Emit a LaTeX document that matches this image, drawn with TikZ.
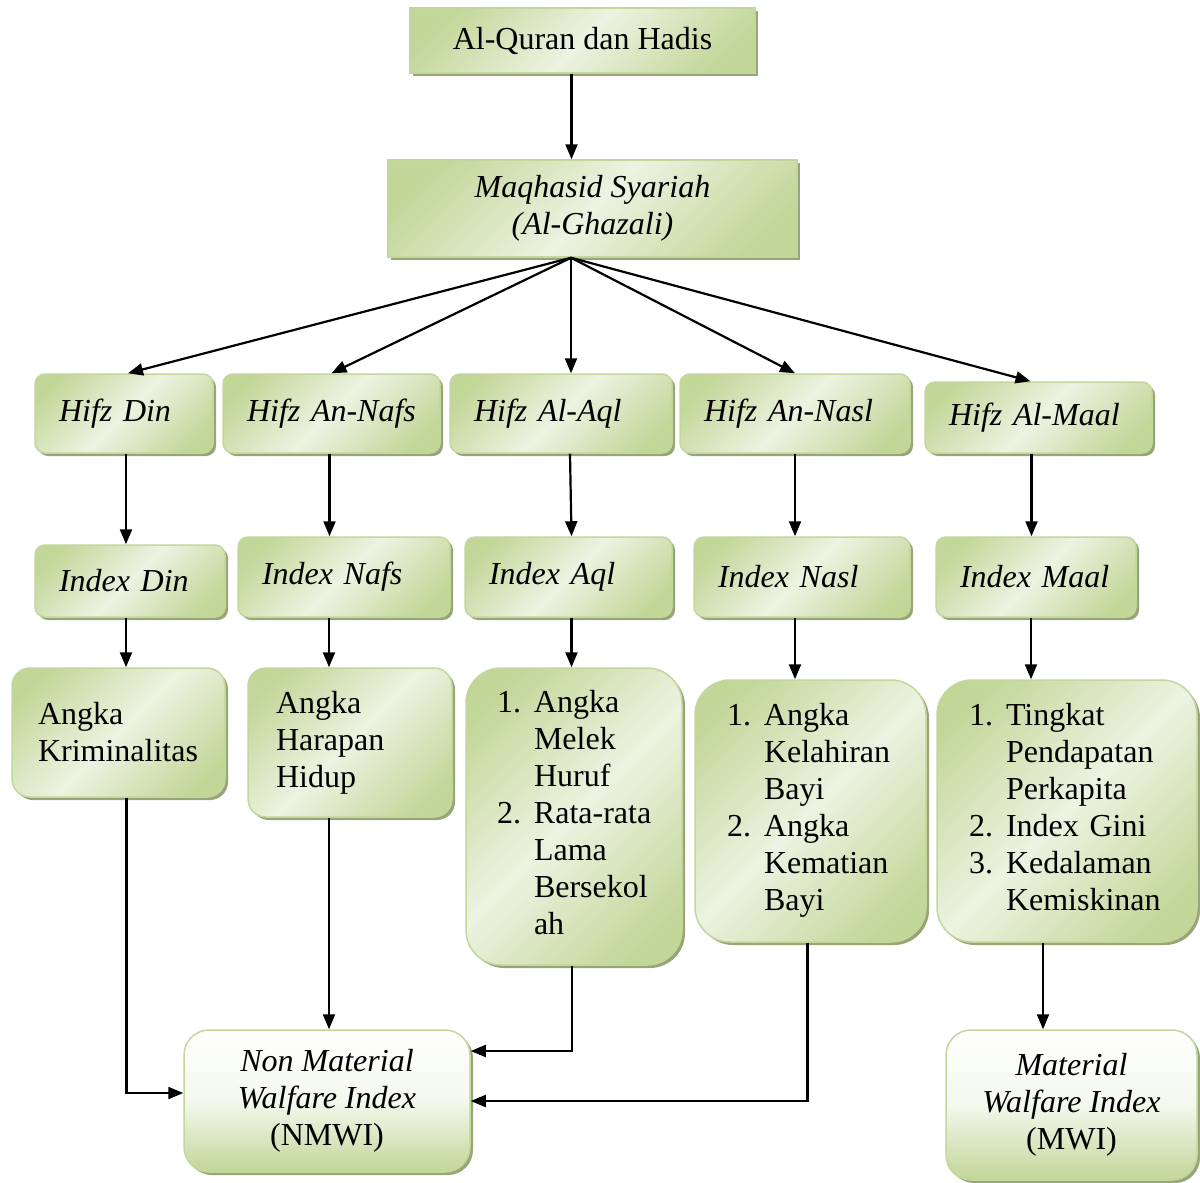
\documentclass[tikz,border=0pt]{standalone}
\usepackage{fontspec}
\setmainfont{Liberation Serif}
\usetikzlibrary{arrows.meta,shadows}

\definecolor{leafline}{RGB}{195,214,155}
\definecolor{leafdark}{RGB}{194,214,152}
\definecolor{leaflight}{RGB}{236,243,225}
\definecolor{leafshadow}{RGB}{152,165,120}

\pgfdeclarehorizontalshading{leafshade}{100bp}{color(0bp)=(leafdark); color(22bp)=(leafdark);
  color(50bp)=(leaflight); color(78bp)=(leafdark); color(100bp)=(leafdark)}

\begin{document}
\begin{tikzpicture}[
  x=1pt, y=-1pt,
  font=\fontsize{32}{37}\selectfont,
  base/.style={draw=leafline, line width=1.5pt,
               shading=leafshade, shading angle=-45,
               drop shadow={shadow xshift=3pt, shadow yshift=-3pt,
                            fill=leafshadow, opacity=1}},
  sqbox/.style={base, rectangle, align=center, inner sep=0pt},
  tag/.style={base, rounded corners=10pt, inner xsep=24pt, inner ysep=0pt, align=left},
  listbox/.style={base, rounded corners=#1, inner ysep=0pt, align=left},
  result/.style={base, rounded corners=25pt, top color=white, bottom color=leafdark,
                 middle color=leaflight!60!white, shading angle=0,
                 inner sep=0pt, align=center},
  arrow/.style={-{Triangle[length=15pt,width=12pt]}, line width=2.2pt}
]
\useasboundingbox (0,0) rectangle (1200,1183);

% top
\node[sqbox, minimum width=345pt, minimum height=65pt] (quran) at (582.5,40.5) {Al-Quran dan Hadis};
\node[sqbox, minimum width=409pt, minimum height=97pt] (maq) at (592.5,208.5)
  {\itshape Maqhasid Syariah\\\itshape (Al-Ghazali)};

% hifz row
\node[tag, minimum width=178pt, minimum height=79pt, text width=130pt] (hdin) at (124,413.5) {\itshape Hifz Din};
\node[tag, minimum width=217pt, minimum height=79pt, text width=169pt] (hnafs) at (331.5,413.5) {\itshape Hifz An-Nafs};
\node[tag, minimum width=222pt, minimum height=79pt, text width=174pt] (haql) at (561,413.5) {\itshape Hifz Al-Aql};
\node[tag, minimum width=230pt, minimum height=79pt, text width=182pt] (hnasl) at (795,413.5) {\itshape Hifz An-Nasl};
\node[tag, minimum width=227pt, minimum height=71pt, text width=179pt] (hmaal) at (1038.5,417.5) {\itshape Hifz Al-Maal};

% index row
\node[tag, minimum width=190pt, minimum height=72pt, text width=142pt] (idin) at (130,581) {\itshape Index Din};
\node[tag, minimum width=212pt, minimum height=80pt, text width=164pt] (inafs) at (344,577) {\itshape Index Nafs};
\node[tag, minimum width=207pt, minimum height=80pt, text width=159pt] (iaql) at (568.5,577) {\itshape Index Aql};
\node[tag, minimum width=216pt, minimum height=80pt, text width=168pt] (inasl) at (802,577) {\itshape Index Nasl};
\node[tag, minimum width=200pt, minimum height=80pt, text width=152pt] (imaal) at (1036,577) {\itshape Index Maal};

% indicators
\node[listbox=18pt, inner xsep=26pt, minimum width=213pt, minimum height=129pt, text width=161pt] (kdin) at (118.5,732.5)
  {Angka\\Kriminalitas};
\node[listbox=18pt, inner xsep=28pt, minimum width=204pt, minimum height=149pt, text width=148pt] (knafs) at (350,742.5)
  {Angka\\Harapan\\Hidup};
\node[listbox=35pt, inner xsep=31pt, minimum width=216pt, minimum height=297pt, text width=154pt] (kaql) at (574,816.5)
  {\begin{tabular}{@{}l@{\hspace{13pt}}l@{}}
   1. & Angka\\ & Melek\\ & Huruf\\
   2. & Rata-rata\\ & Lama\\ & Bersekol\\ & ah
   \end{tabular}};
\node[listbox=35pt, inner xsep=32pt, minimum width=231pt, minimum height=262pt, text width=167pt] (knasl) at (810.5,811)
  {\begin{tabular}{@{}l@{\hspace{13pt}}l@{}}
   1. & Angka\\ & Kelahiran\\ & Bayi\\
   2. & Angka\\ & Kematian\\ & Bayi
   \end{tabular}};
\node[listbox=35pt, inner xsep=32pt, minimum width=260pt, minimum height=262pt, text width=196pt] (kmaal) at (1067,811)
  {\begin{tabular}{@{}l@{\hspace{13pt}}l@{}}
   1. & Tingkat\\ & Pendapatan\\ & Perkapita\\
   2. & Index Gini\\
   3. & Kedalaman\\ & Kemiskinan
   \end{tabular}};

% results
\node[result, minimum width=286pt, minimum height=142pt] (nmwi) at (327,1101)
  {\itshape Non Material\\\itshape Walfare Index\\(NMWI)};
\node[result, minimum width=251pt, minimum height=150pt] (mwi) at (1071.5,1105)
  {\itshape Material\\\itshape Walfare Index\\(MWI)};

% arrows
\coordinate (hub) at ([xshift=-21.5pt]maq.south);
\draw[arrow] ([xshift=-11pt]quran.south) -- ([xshift=-11pt]quran.south |- maq.north);
\draw[arrow] (hub) -- ([xshift=4pt]hdin.north);
\draw[arrow] (hub) -- (hnafs.north);
\draw[arrow] (hub) -- (hub |- haql.north);
\draw[arrow] (hub) -- (hnasl.north);
\draw[arrow] (hub) -- ([xshift=-8pt]hmaal.north);

\draw[arrow] ([xshift=2pt]hdin.south) -- ([xshift=2pt]hdin.south |- idin.north);
\draw[arrow] ([xshift=-2pt]hnafs.south) -- ([xshift=-2pt]hnafs.south |- inafs.north);
\draw[arrow] ([xshift=9pt]haql.south) -- ([xshift=3pt]iaql.north);
\draw[arrow] (hnasl.south) -- (hnasl.south |- inasl.north);
\draw[arrow] ([xshift=-7pt]hmaal.south) -- ([xshift=-7pt]hmaal.south |- imaal.north);

\draw[arrow] ([xshift=-4pt]idin.south) -- ([xshift=-4pt]idin.south |- kdin.north);
\draw[arrow] ([xshift=-15pt]inafs.south) -- ([xshift=-15pt]inafs.south |- knafs.north);
\draw[arrow] ([xshift=3pt]iaql.south) -- ([xshift=3pt]iaql.south |- kaql.north);
\draw[arrow] ([xshift=-7pt]inasl.south) -- ([xshift=-7pt]inasl.south |- knasl.north);
\draw[arrow] ([xshift=-5pt]imaal.south) -- ([xshift=-5pt]imaal.south |- kmaal.north);

\draw[arrow] ([xshift=8pt]kdin.south) |- ([yshift=8pt]nmwi.west);
\draw[arrow] ([xshift=-21pt]knafs.south) -- ([xshift=-21pt]knafs.south |- nmwi.north);
\draw[arrow] ([xshift=-2pt]kaql.south) |- ([yshift=50pt]nmwi.east);
\draw[arrow] ([xshift=-3pt]knasl.south) |- (nmwi.east);
\draw[arrow] ([xshift=-24pt]kmaal.south) -- ([xshift=-24pt]kmaal.south |- mwi.north);
\end{tikzpicture}
\end{document}
